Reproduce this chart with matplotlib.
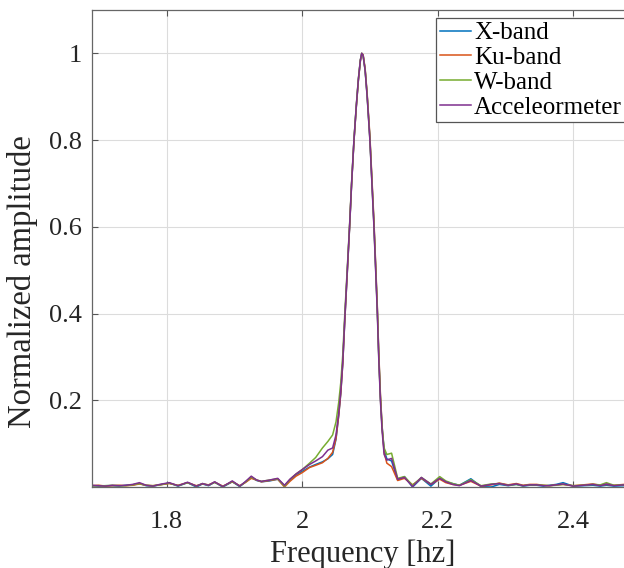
import matplotlib
matplotlib.use("Agg")
import matplotlib.pyplot as plt
from matplotlib.ticker import FormatStrFormatter

# frequency grid [Hz] (denser around the peak)
freq = [
    1.690, 1.700, 1.710, 1.720, 1.730, 1.740, 1.750, 1.760, 1.770, 1.780,
    1.790, 1.804, 1.817, 1.831, 1.844, 1.853, 1.862, 1.871, 1.883, 1.897,
    1.908, 1.916, 1.925, 1.933, 1.940, 1.952, 1.964, 1.974, 1.982, 1.991,
    2.000, 2.011, 2.020, 2.030, 2.038, 2.045, 2.050, 2.054, 2.057, 2.060,
    2.063, 2.067, 2.070, 2.073, 2.0765, 2.080, 2.083, 2.086, 2.088, 2.090,
    2.093, 2.096, 2.100, 2.103, 2.106, 2.1085, 2.111, 2.113, 2.1155, 2.118,
    2.121, 2.125, 2.132, 2.141, 2.151, 2.163, 2.176, 2.190, 2.203, 2.212,
    2.222, 2.232, 2.249, 2.264, 2.279, 2.291, 2.304, 2.316, 2.326, 2.336,
    2.346, 2.356, 2.365, 2.375, 2.385, 2.400, 2.415, 2.429, 2.440, 2.449,
    2.460, 2.475, 2.490,
]

x_band = [
    0.003, 0.002, 0.003, 0.003, 0.002, 0.004, 0.005, 0.008, 0.003, 0.002,
    0.005, 0.009, 0.002, 0.010, 0.000, 0.007, 0.003, 0.011, 0.000, 0.012,
    0.001, 0.011, 0.022, 0.015, 0.012, 0.014, 0.018, 0.003, 0.016, 0.028,
    0.036, 0.046, 0.052, 0.058, 0.065, 0.075, 0.110, 0.165, 0.215, 0.285,
    0.385, 0.505, 0.597, 0.697, 0.798, 0.878, 0.938, 0.984, 1.000, 0.996,
    0.962, 0.903, 0.805, 0.706, 0.607, 0.508, 0.410, 0.310, 0.210, 0.140,
    0.085, 0.065, 0.060, 0.016, 0.024, 0.000, 0.020, 0.002, 0.020, 0.012,
    0.008, 0.004, 0.019, 0.001, 0.000, 0.006, 0.003, 0.006, 0.002, 0.004,
    0.004, 0.002, 0.004, 0.006, 0.010, 0.002, 0.003, 0.004, 0.002, 0.004,
    0.002, 0.003, 0.002,
]

ku_band = [
    0.003, 0.004, 0.002, 0.003, 0.004, 0.003, 0.004, 0.007, 0.004, 0.003,
    0.005, 0.008, 0.004, 0.010, 0.003, 0.007, 0.005, 0.011, 0.002, 0.012,
    0.003, 0.010, 0.020, 0.016, 0.012, 0.015, 0.018, 0.000, 0.013, 0.025,
    0.033, 0.045, 0.050, 0.056, 0.066, 0.080, 0.112, 0.165, 0.215, 0.285,
    0.385, 0.505, 0.597, 0.697, 0.797, 0.877, 0.937, 0.983, 1.000, 0.997,
    0.965, 0.906, 0.810, 0.712, 0.613, 0.515, 0.415, 0.315, 0.215, 0.140,
    0.080, 0.055, 0.047, 0.015, 0.020, 0.005, 0.020, 0.006, 0.018, 0.010,
    0.006, 0.004, 0.013, 0.002, 0.005, 0.009, 0.005, 0.008, 0.004, 0.006,
    0.006, 0.004, 0.003, 0.005, 0.006, 0.003, 0.005, 0.007, 0.004, 0.006,
    0.004, 0.006, 0.005,
]

w_band = [
    0.003, 0.003, 0.003, 0.004, 0.003, 0.003, 0.005, 0.008, 0.004, 0.003,
    0.005, 0.009, 0.003, 0.010, 0.002, 0.008, 0.004, 0.011, 0.001, 0.013,
    0.002, 0.011, 0.023, 0.016, 0.013, 0.016, 0.019, 0.002, 0.017, 0.030,
    0.040, 0.055, 0.068, 0.090, 0.105, 0.120, 0.150, 0.195, 0.240, 0.305,
    0.400, 0.515, 0.603, 0.702, 0.801, 0.881, 0.941, 0.985, 1.000, 0.995,
    0.961, 0.901, 0.802, 0.703, 0.603, 0.504, 0.405, 0.305, 0.205, 0.135,
    0.090, 0.075, 0.078, 0.020, 0.024, 0.004, 0.022, 0.007, 0.024, 0.014,
    0.008, 0.004, 0.017, 0.003, 0.007, 0.008, 0.004, 0.006, 0.003, 0.005,
    0.005, 0.004, 0.003, 0.004, 0.006, 0.003, 0.004, 0.006, 0.005, 0.010,
    0.004, 0.005, 0.004,
]

accel = [
    0.004, 0.003, 0.002, 0.004, 0.003, 0.004, 0.006, 0.010, 0.004, 0.002,
    0.006, 0.010, 0.003, 0.011, 0.002, 0.008, 0.004, 0.012, 0.001, 0.014,
    0.002, 0.012, 0.025, 0.016, 0.013, 0.016, 0.020, 0.004, 0.018, 0.030,
    0.040, 0.052, 0.060, 0.070, 0.085, 0.090, 0.120, 0.170, 0.220, 0.290,
    0.390, 0.510, 0.600, 0.700, 0.800, 0.880, 0.940, 0.985, 1.000, 0.995,
    0.960, 0.900, 0.800, 0.700, 0.600, 0.500, 0.400, 0.300, 0.200, 0.130,
    0.075, 0.062, 0.066, 0.018, 0.022, 0.001, 0.022, 0.006, 0.020, 0.012,
    0.006, 0.003, 0.015, 0.002, 0.006, 0.008, 0.004, 0.007, 0.003, 0.005,
    0.005, 0.003, 0.003, 0.005, 0.007, 0.002, 0.004, 0.006, 0.003, 0.007,
    0.003, 0.005, 0.003,
]

labels = ["X-band", "Ku-band", "W-band", "Acceleormeter"]
colors = ["#0072BD", "#D95319", "#77AC30", "#7E2F8E"]
xticks = [1.8, 2.0, 2.2, 2.4]
yticks = [0.2, 0.4, 0.6, 0.8, 1.0]

plt.rcParams["font.family"] = ["Liberation Serif", "DejaVu Serif"]

fig = plt.figure(figsize=(6.24, 5.68), dpi=100)
# right edge of the axes runs just past the picture, as in the original
ax = fig.add_axes([0.1474, 0.1426, 0.869, 0.8398])

for series, lab, col in zip([x_band, ku_band, w_band, accel], labels, colors):
    ax.plot(freq, series, color=col, lw=1.1, label=lab)

ax.set_xlim(1.69, 2.49)
ax.set_ylim(0, 1.1)
ax.set_xticks(xticks)
ax.set_yticks(yticks)
ax.xaxis.set_major_formatter(FormatStrFormatter("%g"))
ax.yaxis.set_major_formatter(FormatStrFormatter("%g"))
ax.grid(True, color="#dcdcdc", lw=0.8)
ax.set_axisbelow(True)

ax.tick_params(direction="in", top=True, right=True, length=4, width=0.8,
               color="#555555", labelsize=19, labelcolor="#262626")
ax.tick_params(axis="x", pad=17)
ax.tick_params(axis="y", pad=7)
for sp in ax.spines.values():
    sp.set_color("#666666")
    sp.set_linewidth(0.9)

ax.set_xlabel("Frequency [hz]", fontsize=22, color="#262626", labelpad=5)
ax.set_ylabel("Normalized amplitude", fontsize=23.5, color="#262626")
ax.yaxis.set_label_coords(-0.1, 0.43)

leg = ax.legend(loc="upper left", bbox_to_anchor=(436 / 624, 1 - 18 / 568),
                bbox_transform=fig.transFigure, fontsize=18, frameon=True,
                fancybox=False, framealpha=1, edgecolor="#555555",
                handlelength=1.25, handletextpad=0.12, labelspacing=0.09,
                borderpad=0.15, borderaxespad=0)
leg.get_frame().set_linewidth(0.9)

fig.savefig("out.png", dpi=100)
